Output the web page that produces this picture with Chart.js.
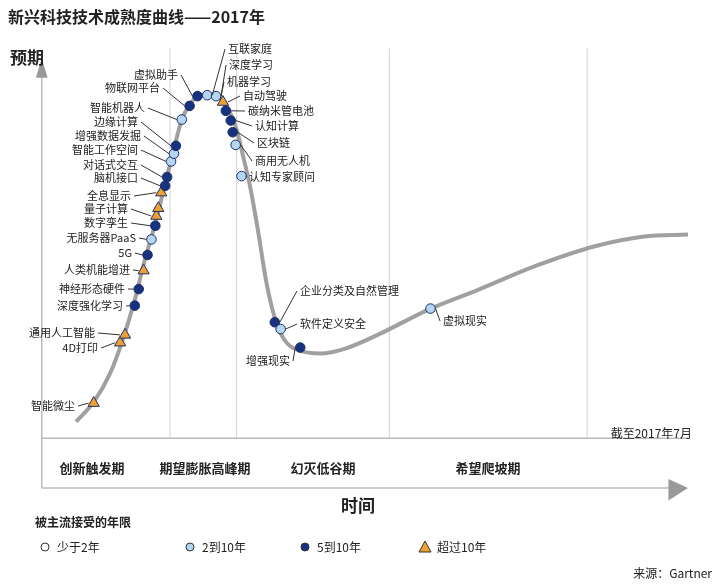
<!DOCTYPE html>
<html><head><meta charset="utf-8">
<script src="https://cdn.jsdelivr.net/npm/chart.js@4/dist/chart.umd.min.js"></script>
<style>body{margin:0;background:#fff}canvas{display:block}</style>
</head><body><canvas id="c" width="720" height="586"></canvas>
<script>
// x = time (axis origin = 0), y = expectation (baseline = 0)
const curveX = [35,53,70,83,95,105,115,125,135,143,151,161,171,181,191,199,205,213,221,229,237,247,263,285,310,345,395,445,505,565,615,660];
const curveY = [17,37,67,102,142,182,217,257,297,327,342,352,353,350,337,317,292,257,212,162,127,102,90,87,92,107,132,152,177,197,207,209];
const techNames = ["智能微尘","4D打印","通用人工智能","深度强化学习","神经形态硬件","人类机能增进","5G","无服务器PaaS","数字孪生","量子计算","","全息显示","脑机接口","对话式交互","智能工作空间","增强数据发掘","边缘计算","智能机器人","物联网平台","虚拟助手","互联家庭","深度学习","自动驾驶","碳纳米管电池","认知计算","区块链","商用无人机","认知专家顾问","企业分类及自然管理","软件定义安全","增强现实","虚拟现实"];
const techX = [53,80,85,95,99,104,108,112,116,117,119,122,126,128,132,135,137,143,151,159,169,178,185,188,193,195,198,204,238,244,264,397];
const techY = [36,98,106,136,153,172,188,204,218,228,236,252,259,268,284,292,300,327,341,351,352,351,345,336,326,314,301,269,119,112,93,133];
const techYears = ["10+","10+","10+","5-10","5-10","10+","5-10","2-10","5-10","10+","10+","10+","5-10","5-10","2-10","2-10","5-10","2-10","5-10","5-10","2-10","2-10","10+","5-10","5-10","5-10","2-10","2-10","5-10","2-10","5-10","2-10"];
const phaseNames = ["创新触发期","期望膨胀高峰期","幻灭低谷期","希望爬坡期"];
const phaseBounds = [131,199,355,557];
// label anchors (canvas px) and side
const lab = {
"智能微尘":[75,406,'r'],"4D打印":[98,348,'r'],"通用人工智能":[95,333,'r'],"深度强化学习":[123,306,'r'],"神经形态硬件":[125,289,'r'],
"人类机能增进":[130,270,'r'],"5G":[132,253,'r'],"无服务器PaaS":[136,238,'r'],"数字孪生":[128,223,'r'],"量子计算":[128,209,'r'],
"全息显示":[131,196,'r'],"脑机接口":[138,178,'r'],"对话式交互":[138,165,'r'],"智能工作空间":[138,150,'r'],"增强数据发掘":[141,136,'r'],
"边缘计算":[138,122,'r'],"智能机器人":[145,108,'r'],"物联网平台":[160,88,'r'],"虚拟助手":[178,75,'r'],"互联家庭":[228,49,'l'],
"深度学习":[229,65,'l'],"机器学习":[227,82,'l'],"自动驾驶":[243,96,'l'],"碳纳米管电池":[248,111,'l'],"认知计算":[255,126,'l'],
"区块链":[257,143,'l'],"商用无人机":[255,161,'l'],"认知专家顾问":[249,177,'l'],"企业分类及自然管理":[300,291,'l'],"软件定义安全":[300,324,'l'],
"增强现实":[290,361,'r'],"虚拟现实":[443,321,'l']};
const extraLabelTo = {"机器学习":"深度学习"};
const style = {"10+":{ps:'triangle',bg:'#f0a030',r:6.5},"5-10":{ps:'circle',bg:'#17327e',r:4.8},"2-10":{ps:'circle',bg:'#b5d6f0',r:4.8}};

const overlay = {id:'overlay',
 beforeDatasetsDraw(ch){
  const c=ch.ctx,xs=ch.scales.x,ys=ch.scales.y;const X=v=>xs.getPixelForValue(v),Y=v=>ys.getPixelForValue(v);
  c.save();
  c.strokeStyle='#d8d8d8';c.lineWidth=1.2;
  phaseBounds.forEach(b=>{c.beginPath();c.moveTo(X(b),Y(0));c.lineTo(X(b),Y(400));c.stroke();});
  c.strokeStyle='#bbb';c.lineWidth=1.5;
  c.beginPath();c.moveTo(X(0),Y(0));c.lineTo(X(660),Y(0));c.stroke();
  c.beginPath();c.moveTo(X(0),Y(-51));c.lineTo(X(645),Y(-51));c.stroke();
  c.beginPath();c.moveTo(X(0),Y(-51));c.lineTo(X(0),Y(372));c.stroke();
  c.fillStyle='#999';
  c.beginPath();c.moveTo(X(-6),Y(370));c.lineTo(X(0),Y(390));c.lineTo(X(6),Y(370));c.closePath();c.fill();
  c.beginPath();c.moveTo(X(640),Y(-42));c.lineTo(X(660),Y(-51));c.lineTo(X(640),Y(-64));c.closePath();c.fill();
  c.restore();
 },
 afterDatasetsDraw(ch){
  const c=ch.ctx,xs=ch.scales.x,ys=ch.scales.y;const X=v=>xs.getPixelForValue(v),Y=v=>ys.getPixelForValue(v);
  c.save();
  const F='"Noto Sans CJK SC","Noto Sans",sans-serif';
  c.font='11px '+F;c.textBaseline='middle';c.fillStyle='#222';c.strokeStyle='#333';c.lineWidth=1;
  const draw=(name,i)=>{const L=lab[name];const px=X(techX[i]),py=Y(techY[i]);c.beginPath();
    if(L[2]==='r'){c.textAlign='right';c.fillText(name,L[0],L[1]);c.moveTo(L[0]+3,L[1]);c.lineTo(px-5,py);}
    else{c.textAlign='left';c.fillText(name,L[0],L[1]);c.moveTo(L[0]-3,L[1]);c.lineTo(px+5,py);}
    c.stroke();};
  techNames.forEach((n,i)=>{if(n&&lab[n])draw(n,i);});
  Object.keys(extraLabelTo).forEach(n=>draw(n,techNames.indexOf(extraLabelTo[n])));
  c.textAlign='center';c.font='bold 13px '+F;
  const phaseCx=[92,205,323,488];
  phaseNames.forEach((n,i)=>c.fillText(n,phaseCx[i],468));
  c.font='bold 17px '+F;c.fillText('时间',358,506);
  c.textAlign='left';c.fillText('预期',10,58);
  c.font='bold 16px '+F;c.fillText('新兴科技技术成熟度曲线——2017年',8,17);
  c.font='12px '+F;c.textAlign='right';c.fillText('截至2017年7月',692,433);
  c.fillText('来源：Gartner',712,573);
  c.textAlign='left';c.font='bold 12px '+F;c.fillText('被主流接受的年限',35,522);
  c.font='12px '+F;
  const leg=[['少于2年','circle','#fff',35],['2到10年','circle','#b5d6f0',180],['5到10年','circle','#17327e',295],['超过10年','triangle','#f0a030',415]];
  leg.forEach(l=>{c.fillStyle=l[2];c.strokeStyle='#333';c.beginPath();
    if(l[1]==='circle'){c.arc(l[3]+10,547,4,0,7);}else{c.moveTo(l[3]+10,541);c.lineTo(l[3]+16,552);c.lineTo(l[3]+4,552);c.closePath();}
    c.fill();c.stroke();c.fillStyle='#222';c.fillText(l[0],l[3]+22,547);});
  c.restore();
 }};
new Chart(document.getElementById('c'),{
 type:'scatter',
 data:{datasets:[
  {type:'line',data:curveX.map((x,i)=>({x:x,y:curveY[i]})),borderColor:'#a0a0a0',borderWidth:4,pointRadius:0,tension:0.4,cubicInterpolationMode:'monotone',fill:false,order:2},
  {data:techX.map((x,i)=>({x:x,y:techY[i]})),pointStyle:techYears.map(t=>style[t].ps),pointRadius:techYears.map(t=>style[t].r),
   backgroundColor:techYears.map(t=>style[t].bg),borderColor:'#1d2f6a',borderWidth:1,order:1}
 ]},
 options:{responsive:false,animation:false,layout:{padding:0},
  plugins:{legend:{display:false},tooltip:{enabled:false}},
  scales:{x:{type:'linear',min:-35,max:685,display:false},y:{type:'linear',min:-144,max:442,display:false}}},
 plugins:[overlay]
});
</script>
</body></html>
